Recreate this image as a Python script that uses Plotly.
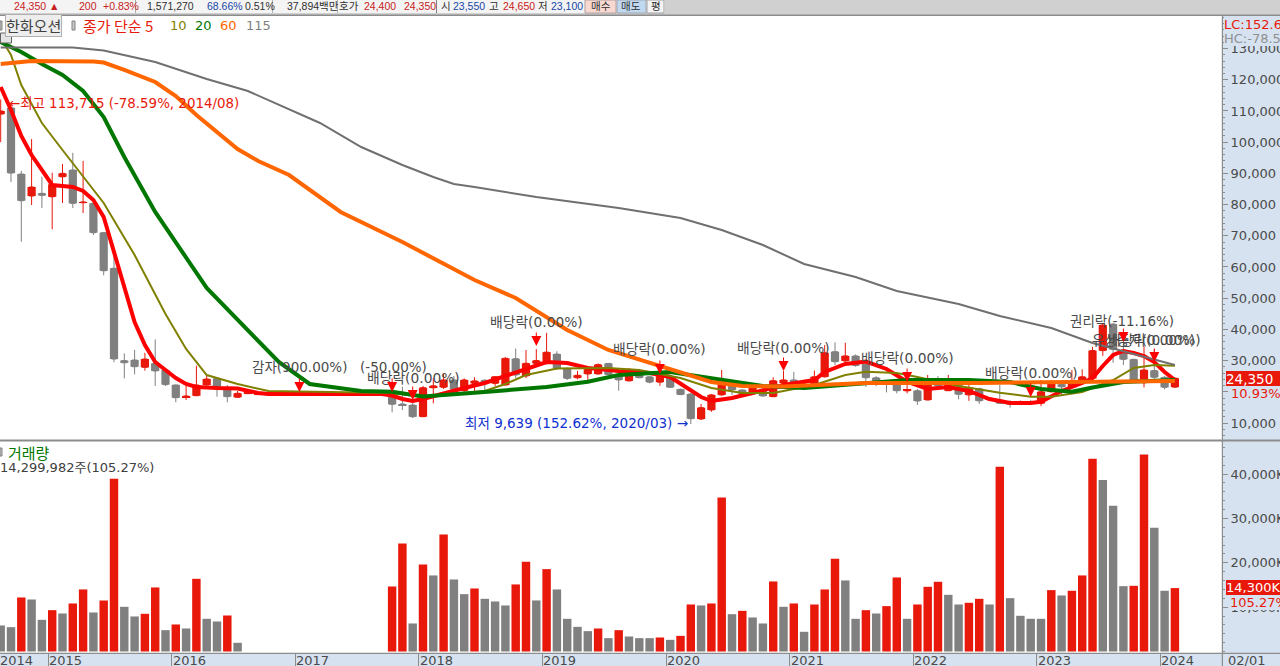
import plotly.graph_objects as go

W, H = 1280, 666
months = list(range(115))
opens = [109000,111000,89800,82750,83600,82500,88900,91100,80600,80400,71000,59600,30000,30200,27850,29130,27000,22200,18300,18750,22180,24300,21300,18240,
 19400,19100,19100,19100,19100,19100,19100,19100,19100,19100,19100,19100,19100,19100,
 19700,16100,15770,12020,21300,21440,23800,20350,22700,23700,22700,22180,30600,25060,29100,29100,32100,27500,24500,25700,25700,29100,25300,23500,26800,24800,23100,24500,20800,19300,11280,14170,19000,23100,20600,19300,20800,18430,22800,23800,21400,21400,24800,32850,29900,31500,28900,24500,23400,22700,20300,20350,17370,23800,20350,22700,19000,21000,17400,17400,16800,16000,16800,16300,20000,22400,21400,23200,24300,33200,41700,33400,30400,22900,26800,24650,21500]
closes = [110000,90100,81250,85640,82960,86500,90000,80400,80800,71000,58800,30500,29300,28040,30500,26670,22300,18100,18600,22180,24100,21300,18430,19520,
 19800,19500,19500,19500,19500,19500,19500,19500,19500,19500,19500,19500,19500,19500,
 16000,15600,12020,21300,21900,23800,20800,23800,23500,23000,24840,30740,25380,29130,30000,32700,27500,24300,25300,27200,28700,25500,23800,27200,24500,23100,25000,21440,19100,11380,14900,19000,23800,20600,19200,21400,18650,23560,23800,21440,22500,24800,32500,29650,31500,28400,24500,23100,22900,20350,20700,17050,23200,21900,23200,19200,21400,17100,17900,16300,16000,16900,16200,20000,22500,21600,23400,24800,33200,41400,33600,30400,23500,27000,24650,21440,24350]
highs = [113715,111000,90800,101000,88900,90200,93000,96600,94000,80500,71200,65400,32300,33400,32500,36800,27000,22300,22000,28360,25380,24400,22180,20250,
 19800,19500,19500,19500,19500,19500,19500,19500,19500,19500,19500,19500,19500,19500,
 19700,21640,16500,21860,24400,25700,25060,24300,24650,24000,25000,31100,33900,33400,33700,38900,33000,27800,26700,27600,29100,29200,26800,27600,27000,25000,25500,25000,21000,19500,16100,19300,27000,23300,20800,21600,21000,24650,26670,26400,23800,26800,35000,35860,35700,32000,29300,25000,23800,23500,23200,20900,25400,25000,25400,24000,22500,21300,18200,22200,17300,17200,17400,23800,23800,23000,27000,27200,34400,42000,42000,37000,30600,34500,33600,25000,24650]
lows = [100000,87200,68100,79870,78900,72100,80500,78900,77300,70250,57340,29450,24300,25600,26760,21860,21860,16630,17370,18750,22000,18430,16630,18240,
 19400,19100,19100,19100,19100,19100,19100,19100,19100,19100,19100,19100,19100,19100,
 13430,14170,11600,12000,16300,20900,20500,19900,20000,19700,21860,22000,24400,24400,28000,28800,27000,23800,24000,23200,25500,25300,20350,23300,24400,22700,21900,21400,19000,9639,10960,13600,18700,19000,19000,19200,18500,18400,22200,21200,21300,21200,24600,28500,29500,28000,21600,21800,19800,19500,19500,15800,17300,21300,20300,17600,17100,16100,17300,16100,14900,15900,15800,15400,19800,18650,21300,23100,24000,31500,29300,28600,23300,21400,24000,20800,21200]

volume_k = [5870,5490,12180,11730,7140,9320,8570,10830,13990,8800,11500,38950,10080,7900,8500,14440,4810,6090,5190,16390,7370,6770,8120,1960,
 0,0,0,0,0,0,0,0,0,0,0,0,0,0,
 14660,24360,6320,19630,17150,26400,16240,12930,14210,11880,11280,10380,15120,20230,11510,18570,13990,7370,5560,4590,5190,3010,4810,3380,3010,3010,3160,2630,3530,10600,10380,10830,34740,8420,9170,7670,6320,15790,10080,10830,4440,10600,13990,20900,16020,7370,9320,8570,10230,16690,7370,10600,14590,15720,12780,10600,10980,11880,10600,41660,12030,8050,7370,7370,13840,12630,13690,17150,43470,38650,32860,14740,14810,44440,27900,13690,14300]
volume_up = [0,0,1,0,0,1,0,1,1,0,1,1,0,0,1,1,0,1,0,1,0,0,1,0,
 0,0,0,0,0,0,0,0,0,0,0,0,0,0,
 1,1,0,1,0,1,0,0,1,0,0,0,1,1,0,1,0,0,0,0,1,0,1,0,0,0,1,0,1,1,0,1,1,0,1,0,0,1,0,1,0,1,1,1,0,0,1,0,1,1,0,1,1,1,0,0,1,1,0,1,0,0,0,0,1,0,1,1,1,0,0,0,1,1,0,0,1]

ma5_m = [0,1,2,3,5,7,8,9,10,11,12,13,14,15,16,17,18,19,21,23,25,26,37,38,39,40,41,43,45,47,49,51,53,55,57,60,63,65,66,68,69,71,73,76,79,80,82,84,86,88,90,92,94,96,98,100,101,103,105,106,107,108,109,110,111,112,113,114]
ma5_v = [117690,110320,101980,95890,86280,85640,84360,81470,76020,64800,52630,42370,35000,29550,26990,24420,22500,21540,21220,21060,19620,19290,19290,18810,17690,17050,17690,19620,21220,22820,25060,26990,29550,29230,27630,26670,26030,24740,22500,18330,17050,18010,19620,22180,23780,26350,28910,29710,27310,23240,20900,21540,20260,17690,16410,16410,16830,20260,22820,24420,28270,31790,33080,32440,31470,29550,26350,23780]
ma10_m = [0,1,2,4,6,8,10,13,16,18,20,23,26,35,38,41,47,49,51,54,59,62,66,69,72,75,79,82,84,87,89,93,97,100,102,105,108,110,112,114]
ma10_v = [133390,127940,118330,106150,97500,88840,80510,63840,44930,33720,25380,22500,20260,19780,19620,18330,20260,22500,25380,27470,27630,26990,24420,21220,19620,19620,22180,25380,26440,26030,24740,21860,19710,18430,18430,19940,23780,27630,28590,28360]
ma20_m = [0,2,4,6,8,10,12,15,20,24,27,30,35,38,41,47,53,57,60,65,69,74,78,82,88,94,98,101,104,106,109,114]
ma20_v = [132110,128900,125060,121530,116400,108070,95250,77630,53270,39490,29550,22500,20260,20030,18490,19940,21540,23240,25380,26350,24420,21860,21220,22180,23780,23780,23140,20900,20030,21380,23140,23780]
ma60_m = [0,3,9,10,12,15,17,19,23,25,28,33,39,43,46,50,55,59,63,66,69,72,76,84,95,114]
ma60_v = [125060,126020,125860,125540,123140,119290,114800,108710,97820,93970,89480,77630,68010,60960,55830,50060,39800,33400,29390,26350,23140,21860,21700,22820,22820,23460]
ma115_m = [0,7,8,10,15,20,24,28,31,35,39,42,44,46,52,60,66,70,74,78,83,87,93,97,102,106,110,114]
ma115_v = [130350,130350,130030,129390,125700,120250,116400,110640,106150,98460,92690,88840,86600,85640,82430,78900,75700,71860,67050,60960,56790,52300,48140,44300,40450,35640,32110,28590]

year_labels = ["2015","2016","2017","2018","2019","2020","2021","2022","2023","2024"]
year_months = [5,17,29,41,53,65,77,89,101,113]
price_ticks = [10000*k for k in range(1,14)]
volume_ticks = [10000,20000,30000,40000]
event_months = [29,38,40,52,64,76,88,100,109,112]
event_prices = [19935,19935,17370,34680,25700,26670,23140,18330,35960,29550]

RED="#E8180A"; GREY="#808080"; PANEL="#D6E2F0"; LINE="#8C8C8C"; TXT="#4A4A4A"
FONT="DejaVu Sans, Noto Sans CJK KR"
CJK="Noto Sans CJK KR, DejaVu Sans"

def px(x): return x/W
def py(y): return 1-y/H
x0 = -0.7/10.3
xmax = (1222-0.7)/10.3
def price_at(y): return 10000+(423-y)*320.5
def vol_at(y): return (651.5-y)/44.35*10000

fig = go.Figure()
fig.add_trace(go.Candlestick(x=months, open=opens, high=highs, low=lows, close=closes,
    increasing=dict(line=dict(color=RED,width=1),fillcolor=RED),
    decreasing=dict(line=dict(color=GREY,width=1),fillcolor=GREY),
    whiskerwidth=0, showlegend=False, hoverinfo="skip", xaxis="x", yaxis="y"))
fig.add_trace(go.Bar(x=months,y=[abs(c-o) for o,c in zip(opens,closes)],base=[min(o,c) for o,c in zip(opens,closes)],
    marker=dict(color=[RED if c>=o else GREY for o,c in zip(opens,closes)],line=dict(width=0)),
    width=0.8,showlegend=False,hoverinfo="skip",xaxis="x",yaxis="y"))
for m,v,c,w in [(ma5_m,ma5_v,"#FF0000",4),(ma10_m,ma10_v,"#808000",2),(ma20_m,ma20_v,"#007700",4),(ma60_m,ma60_v,"#FF6600",4),(ma115_m,ma115_v,"#707070",2)]:
    fig.add_trace(go.Scatter(x=m,y=v,mode="lines",line=dict(color=c,width=w),showlegend=False,hoverinfo="skip",xaxis="x",yaxis="y"))
fig.add_trace(go.Bar(x=months,y=volume_k,marker=dict(color=[RED if u else GREY for u in volume_up],line=dict(width=0)),
    width=0.82,showlegend=False,hoverinfo="skip",xaxis="x",yaxis="y2"))

shapes=[]
def rect(x0_,y0_,x1_,y1_,fill,line=None,layer="above"):
    shapes.append(dict(type="rect",xref="paper",yref="paper",x0=px(x0_),x1=px(x1_),y0=py(y1_),y1=py(y0_),
        fillcolor=fill,line=dict(color=line or fill,width=1 if line else 0),layer=layer))
rect(0,0,W,15,"#D0D0D0")
rect(0,0,665,13,"#F4F4F4")
rect(0,14.5,W,16,"#8C8C8C")
rect(135,0,136,13,"#B0B0B0"); rect(272,0,273,13,"#B0B0B0"); rect(337,0,338,13,"#B0B0B0"); rect(436,0,437,13,"#808080")
rect(585,0,616,13,"#F8D8D0","#B0A0A0"); rect(617,0,646,13,"#C0D8F0","#A0A8B0"); rect(647,0,664,13,"#F4F4F4","#A0A0A0")
rect(0,439.5,W,441.5,LINE)
rect(0,652.8,W,654,LINE)
rect(1221.8,16,1223,666,LINE)
rect(0.5,33,11.5,43,"#E4E4E4","#606060")
rect(0,21,2,30,"#C8C8C8","#808080"); rect(72,21,75,30,"#C8C8C8","#808080"); rect(0,448,2,456,"#C8C8C8","#808080")
fig.update_layout(shapes=shapes)

ann=[]
def note(x,y,t,c=TXT,s=13,font=FONT,**kw):
    d=dict(xref="paper",yref="paper",x=px(x),y=py(y),text=t,showarrow=False,xanchor="left",yanchor="middle",
           font=dict(family=font,size=s,color=c),borderpad=0,borderwidth=0)
    d.update(kw); ann.append(d)
def note_r(x,y,t,c=TXT,s=13,font=FONT,**kw):
    # right-hand panel text: anchored at the axis end so it is cut by the window edge as in the reference
    d=dict(xref="x",yref="paper",x=xmax,xshift=x-1222,y=py(y),text=t,showarrow=False,xanchor="left",yanchor="middle",
           font=dict(family=font,size=s,color=c),borderpad=0,borderwidth=0,align="left")
    d.update(kw); ann.append(d)
HR="#C82020"; HB="#1848A8"; HD="#303030"
for x,t,c in [(14,"24,350 ▲",HR),(79,"200",HR),(103,"+0.83%",HR),(147,"1,571,270",HD),(207,"68.66%",HB),(245,"0.51%",HD),(287,"37,894백만",HD),(339,"호가",HD),(364,"24,400",HR),(404,"24,350",HR),(441,"시",HD),(453,"23,550",HB),(489,"고",HD),(503,"24,650",HR),(538,"저",HD),(551,"23,100",HB),(591,"매수",HD),(621,"매도",HD),(651,"평",HD)]:
    note(x,6.5,t,c,10.5,"Liberation Sans, Noto Sans CJK KR")
note(5,25.5,"한화오션","#404040",15,CJK,bgcolor="#EDEDED",bordercolor="#B0B0B0",borderwidth=1,borderpad=0)
note(83,25.5,"종가 단순 5",RED,15,CJK)
note(170,25.5,"10","#808000",13)
note(195,25.5,"20","#007700",13)
note(220,25.5,"60","#FF6600",13)
note(246,25.5,"115","#808080",13)
note(9,103,"←최고 113,715 (-78.59%, 2014/08)",RED,13.4)
note(252,367,"감자(900.00%)",TXT,13.5)
note(360,367,"(-50.00%)",TXT,13.5)
note(367,378,"배당락(0.00%)",TXT,13.8)
note(490,322,"배당락(0.00%)",TXT,13.8)
note(613,349,"배당락(0.00%)",TXT,13.8)
note(737,347.5,"배당락(0.00%)",TXT,13.8)
note(861,358,"배당락(0.00%)",TXT,13.8)
note(985,373,"배당락(0.00%)",TXT,13.8)
note(1070,321.5,"권리락(-11.16%)",TXT,13.5)
note(1092,340,"유상증자(0.00%)",TXT,13.5)
note(1108,340,"배당락(0.00%)",TXT,13.8)
note(465,423,"최저 9,639 (152.62%, 2020/03) →","#1030D0",13.5)
note(8,452,"거래량","#007700",15,CJK)
note(0,467,"14,299,982주(105.27%)","#404040",13)
note_r(1223.5,25,"LC:152.62%",RED,13,bgcolor=PANEL)
note_r(1223.5,39,"HC:-78.59%","#909090",13,bgcolor=PANEL)
note_r(1226,378,"24,350","#FFFFFF",13.5,bgcolor=RED,width=56,height=15)
note_r(1231,393,"10.93%",RED,13,bgcolor=PANEL)
note_r(1226,587.5,"14,300K","#FFFFFF",13,bgcolor=RED,width=56,height=15)
note_r(1230,602,"105.27%",RED,13,bgcolor=PANEL)
note(0,660,"2014",TXT,13)
note_r(1228,660,"02/01",TXT,13)
for m,t in zip(year_months,year_labels):
    ann.append(dict(xref="x",yref="paper",x=m-0.4,y=py(660),text=t,showarrow=False,xanchor="left",yanchor="middle",xshift=-1,
        font=dict(family=FONT,size=13,color=TXT)))
for m,p in zip(event_months,event_prices):
    ann.append(dict(xref="x",yref="y",x=m,y=p,text="",showarrow=True,ax=0,ay=-15,arrowcolor="#FF0000",arrowhead=2,arrowwidth=1,arrowsize=2,standoff=0,startstandoff=0))

axfont=dict(family=FONT,size=13,color=TXT)
minor=dict(tickmode="linear",dtick=2000,ticks="outside",ticklen=2,tickcolor="#8C8C8C")
fig.update_layout(
    width=W,height=H,margin=dict(l=0,r=0,t=0,b=0,pad=0,autoexpand=False),paper_bgcolor=PANEL,plot_bgcolor="#FFFFFF",
    annotations=ann,barmode="overlay",showlegend=False,
    xaxis=dict(domain=[0,1222/W],range=[x0,xmax],anchor="y2",rangeslider=dict(visible=False),showgrid=False,zeroline=False,
        tickmode="array",tickvals=[m-0.4 for m in year_months],ticktext=[""]*len(year_months),ticks="outside",ticklen=12,tickcolor="#8C8C8C",tickwidth=1),
    yaxis=dict(domain=[py(440),py(16)],range=[price_at(440),price_at(16)],side="right",anchor="x",showgrid=False,zeroline=False,
        tickmode="array",tickvals=price_ticks,ticktext=[f"{v:,}" for v in price_ticks],ticks="outside",ticklen=5,tickcolor="#8C8C8C",tickfont=axfont,minor=minor),
    yaxis2=dict(domain=[py(653),py(441)],range=[vol_at(653),vol_at(441)],side="right",anchor="x",showgrid=False,zeroline=False,
        tickmode="array",tickvals=volume_ticks,ticktext=[f"{v:,}K" for v in volume_ticks],ticks="outside",ticklen=5,tickcolor="#8C8C8C",tickfont=axfont,minor=minor),
)
fig.write_html("out.html",config=dict(displayModeBar=False),post_script="document.body.style.margin='0';document.body.style.overflow='hidden';")
